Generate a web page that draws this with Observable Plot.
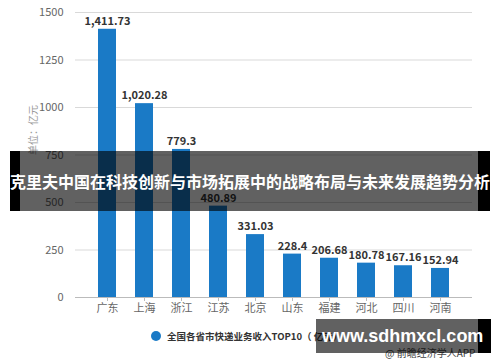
<!DOCTYPE html>
<html><head><meta charset="utf-8">
<script src="https://cdn.jsdelivr.net/npm/d3@7"></script>
<script src="https://cdn.jsdelivr.net/npm/@observablehq/plot@0.6"></script>
<style>
body{margin:0;background:#fff;font-family:"Noto Sans CJK SC","Liberation Sans",sans-serif;}
#wrap{position:relative;width:500px;height:362px;overflow:hidden;}
.abs{position:absolute;}
</style></head>
<body><div id="wrap"></div>
<script>
const provinces = ["广东","上海","浙江","江苏","北京","山东","福建","河北","四川","河南"];
const revenue = [1411.73,1020.28,779.3,480.89,331.03,228.4,206.68,180.78,167.16,152.94];
const yTicks = [0,250,500,750,1000,1250,1500];
const legendLabel = "全国各省市快递业务收入TOP10（ 亿元）";
const sourceLabel = "@ 前瞻经济学人APP";
const bannerTitle = "克里夫中国在科技创新与市场拓展中的战略布局与未来发展趋势分析";
const siteMark = "www.sdhmxcl.com";
const yLabel = "单位：亿元";

const data = provinces.map((p,i)=>({p, v: revenue[i]}));
const fmt = d3.format(",");

const chart = Plot.plot({
  width: 500, height: 320,
  marginLeft: 75, marginRight: 28, marginTop: 12, marginBottom: 23,
  style: {fontFamily: '"Noto Sans CJK SC", sans-serif', background: "transparent"},
  x: {domain: provinces, padding: 0.52, label: null},
  y: {domain: [0,1500], label: null},
  marks: [
    Plot.gridY(yTicks, {stroke: "#d9d9d9", strokeOpacity: 1}),
    Plot.axisY(yTicks, {tickSize: 0, tickPadding: 12, fontSize: 11, fill: "#666", label: null, tickFormat: d => String(d)}),
    Plot.text([yLabel], {frameAnchor: "left", dx: -42, rotate: -90, fill: "#999", fontSize: 10}),
    Plot.barY(data, {x: "p", y: "v", fill: "#1a7ac6"}),
    Plot.ruleY([0], {stroke: "#bbb"}),
    Plot.axisX({tickSize: 4, stroke: "#bbb", tickPadding: 3, fontSize: 11, fill: "#666", label: null}),
    Plot.text(data, {x: "p", y: "v", text: d => fmt(d.v), dy: -8, fontSize: 11, fontWeight: "bold", fill: "#333"})
  ]
});
const wrap = document.getElementById("wrap");
chart.style.position = "absolute"; chart.style.left = "0"; chart.style.top = "0";
wrap.appendChild(chart);

function add(html, css){const d=document.createElement("div");d.className="abs";d.style.cssText=css;d.innerHTML=html;wrap.appendChild(d);return d;}
// legend
add("", "left:151px;top:331px;width:10px;height:10px;border-radius:50%;background:#1a7ac6;");
add(legendLabel, "left:167px;top:327px;font-size:9.5px;line-height:18px;font-weight:bold;color:#333;white-space:nowrap;");
add(sourceLabel, "left:385px;top:346px;font-size:10px;line-height:14px;color:#444;white-space:nowrap;");
// banner
add("", "left:10px;top:151px;width:10px;height:60px;background:#000;");
add("", "left:20px;top:151px;width:458px;height:60px;background:rgba(0,0,0,0.62);");
add("", "left:478px;top:151px;width:12px;height:60px;background:#000;");
add(bannerTitle, "left:0;top:151px;width:500px;height:60px;line-height:60px;text-align:center;color:#fff;font-weight:bold;font-size:16px;white-space:nowrap;");
// site mark
add("", "left:316px;top:319px;width:162px;height:34px;background:rgba(0,0,0,0.62);");
add("", "left:478px;top:319px;width:13px;height:34px;background:#000;");
add(siteMark, "left:322px;top:319px;width:160px;height:34px;line-height:34px;text-align:center;color:#fff;font-weight:bold;font-size:18px;font-family:'Liberation Sans',sans-serif;white-space:nowrap;");
</script></body></html>
